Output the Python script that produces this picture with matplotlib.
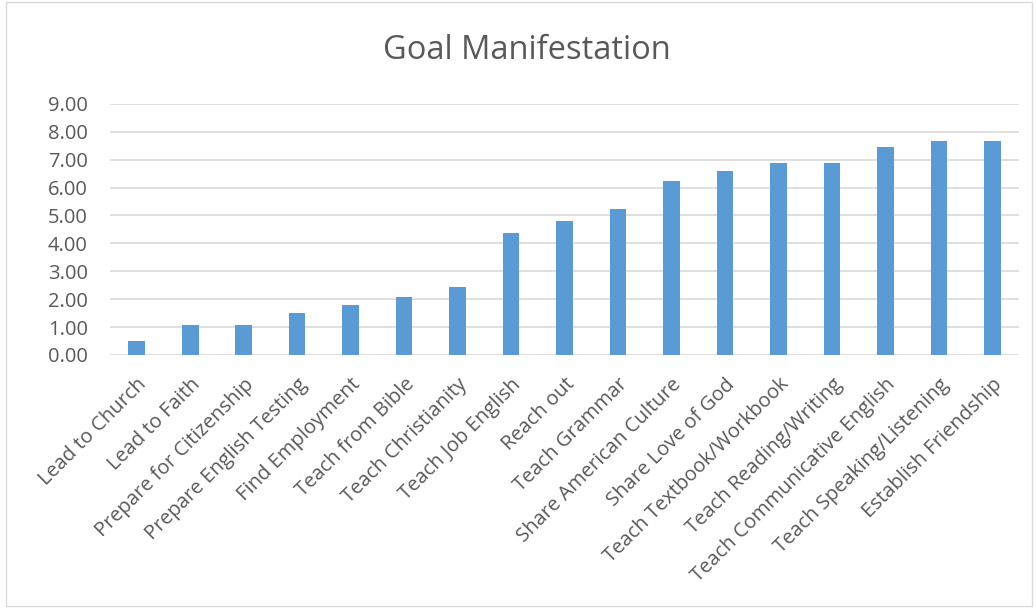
import matplotlib

matplotlib.use("Agg")
import matplotlib.pyplot as plt
from matplotlib.patches import Rectangle

categories = [
    "Lead to Church", "Lead to Faith", "Prepare for Citizenship",
    "Prepare English Testing", "Find Employment", "Teach from Bible",
    "Teach Christianity", "Teach Job English", "Reach out", "Teach Grammar",
    "Share American Culture", "Share Love of God", "Teach Textbook/Workbook",
    "Teach Reading/Writing", "Teach Communicative English",
    "Teach Speaking/Listening", "Establish Friendship",
]
values = [0.50, 1.08, 1.08, 1.51, 1.79, 2.08, 2.43, 4.36, 4.79, 5.22,
          6.23, 6.59, 6.87, 6.87, 7.45, 7.66, 7.66]
yticks = [0, 1, 2, 3, 4, 5, 6, 7, 8, 9]

plt.rcParams["font.family"] = ["Open Sans", "DejaVu Sans"]
TXT = "#595959"

fig = plt.figure(figsize=(10.36, 6.11), dpi=100)
ax = fig.add_axes([0.1062, 0.419, 0.8774, 0.411])

x = range(len(categories))
ax.bar(x, values, width=0.31, color="#5b9bd5", zorder=3)
ax.set_xlim(-0.5, len(categories) - 0.5)
ax.set_ylim(0, 9)
ax.set_yticks(yticks)
ax.set_yticklabels([f"{v:.2f}" for v in yticks], fontsize=14.5, color=TXT)
ax.set_xticks(list(x))
ax.set_xticklabels(categories, rotation=45, ha="right", rotation_mode="anchor",
                   fontsize=14.5, color=TXT)
ax.tick_params(axis="both", length=0)
ax.tick_params(axis="y", pad=16)
ax.tick_params(axis="x", pad=14)
ax.grid(axis="y", color="#d9d9d9", linewidth=1.2, zorder=0)
for s in ax.spines.values():
    s.set_visible(False)

fig.text(0.509, 0.918, "Goal Manifestation", ha="center", va="center",
         fontsize=23.5, color=TXT)
fig.patches.append(Rectangle((0.006, 0.008), 0.99, 0.988, transform=fig.transFigure,
                             fill=False, edgecolor="#d9d9d9", linewidth=1))

fig.savefig("out.png", dpi=100)
